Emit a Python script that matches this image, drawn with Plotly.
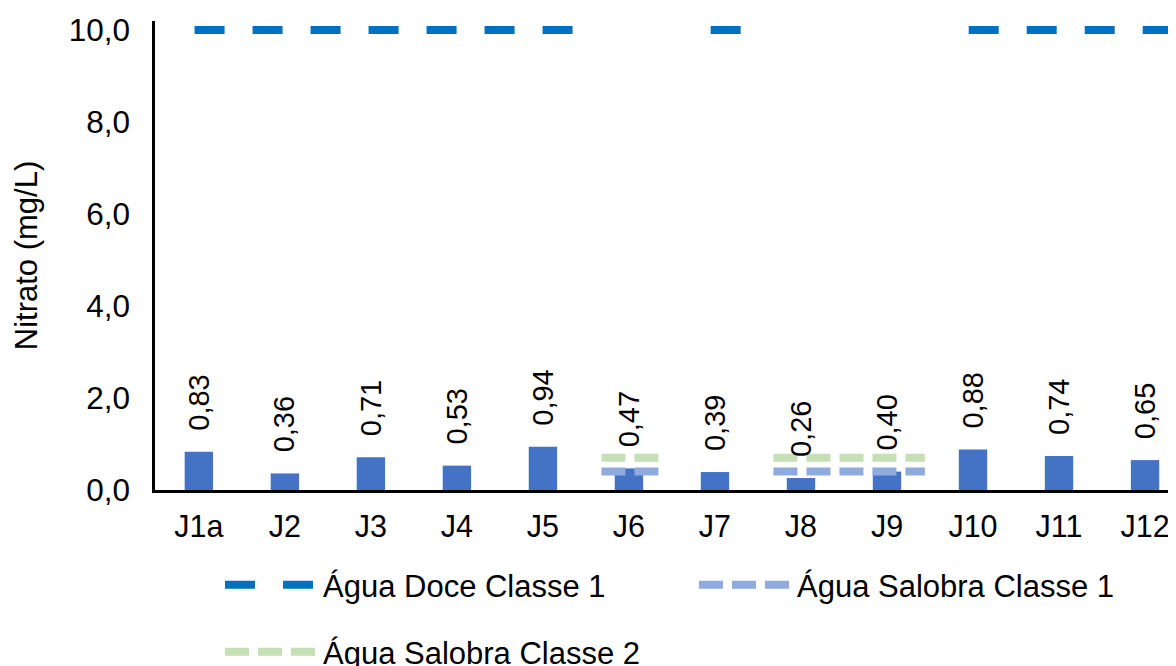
import plotly.graph_objects as go

categories = ["J1a", "J2", "J3", "J4", "J5", "J6", "J7", "J8", "J9", "J10", "J11", "J12"]
nitrato = [0.83, 0.36, 0.71, 0.53, 0.94, 0.47, 0.39, 0.26, 0.40, 0.88, 0.74, 0.65]
agua_doce_c1 = [10.0, 10.0, 10.0, 10.0, 10.0, None, 10.0, None, None, 10.0, 10.0, 10.0]
agua_salobra_c1 = [None, None, None, None, None, 0.40, None, 0.40, 0.40, None, None, None]
agua_salobra_c2 = [None, None, None, None, None, 0.70, None, 0.70, 0.70, None, None, None]
y_ticks = [0, 2, 4, 6, 8, 10]

FONT = "Liberation Sans, Arial, sans-serif"
idx = list(range(len(categories)))


def runs(values, start_off, end_off):
    xs, ys = [], []
    i, n = 0, len(values)
    while i < n:
        if values[i] is None:
            i += 1
            continue
        j = i
        while j + 1 < n and values[j + 1] is not None:
            j += 1
        xs += [i + start_off, j + end_off, None]
        ys += [values[i], values[j], None]
        i = j + 1
    return xs, ys


fig = go.Figure()
fig.add_trace(go.Bar(x=idx, y=nitrato, width=0.33, marker=dict(color="#4472C4", line=dict(width=0)),
                     showlegend=False, name="Nitrato", hoverinfo="skip"))

dx, dy = runs(agua_doce_c1, -0.05, 0.45)
fig.add_trace(go.Scatter(x=dx, y=dy, mode="lines", name="Água Doce Classe 1",
                         line=dict(color="#0070C0", width=8, dash="30px,28px"), legend="legend"))
s1x, s1y = runs(agua_salobra_c1, -0.32, 0.44)
fig.add_trace(go.Scatter(x=s1x, y=s1y, mode="lines", name="Água Salobra Classe 1",
                         line=dict(color="#8FAADC", width=8, dash="24px,9px"), legend="legend"))
s2x, s2y = runs(agua_salobra_c2, -0.32, 0.44)
fig.add_trace(go.Scatter(x=s2x, y=s2y, mode="lines", name="Água Salobra Classe 2",
                         line=dict(color="#C5E0B4", width=8, dash="24px,9px"), legend="legend2"))

annotations = []
for i, v in zip(idx, nitrato):
    annotations.append(dict(x=i, y=v, xref="x", yref="y", text=f"{v:.2f}".replace(".", ","),
                            showarrow=False, textangle=-90, xanchor="center", yanchor="bottom",
                            yshift=19, font=dict(family=FONT, size=29, color="#000000")))

fig.update_layout(
    width=1168, height=658,
    margin=dict(l=147, r=0, t=13, b=176),
    paper_bgcolor="white", plot_bgcolor="white",
    separators=",.",
    font=dict(family=FONT, size=31, color="#000000"),
    annotations=annotations,
    xaxis=dict(range=[-0.51, 11.36], tickvals=idx, ticktext=categories, showgrid=False, zeroline=False,
               showline=True, linecolor="#000000", linewidth=2.5, ticks="", ticklabelstandoff=8,
               tickfont=dict(family=FONT, size=30.5, color="#000000")),
    yaxis=dict(range=[0, 10.196], tickvals=y_ticks, tickformat=".1f", showgrid=False, zeroline=False,
               showline=True, linecolor="#000000", linewidth=2.5, ticks="", ticklabelstandoff=16,
               tickfont=dict(family=FONT, size=31.5, color="#000000"),
               title=dict(text="Nitrato (mg/L)", standoff=22, font=dict(family=FONT, size=31, color="#000000"))),
    legend=dict(orientation="h", xref="container", yref="container", x=0.1815, y=0.164,
                xanchor="left", yanchor="top", itemwidth=93, entrywidth=366, traceorder="normal",
                font=dict(family=FONT, size=31, color="#000000"), bgcolor="rgba(0,0,0,0)"),
    legend2=dict(orientation="h", xref="container", yref="container", x=0.1815, y=0.0623,
                 xanchor="left", yanchor="top", itemwidth=93,
                 font=dict(family=FONT, size=31, color="#000000"), bgcolor="rgba(0,0,0,0)"),
    showlegend=True,
)

fig.write_html("out.html")
